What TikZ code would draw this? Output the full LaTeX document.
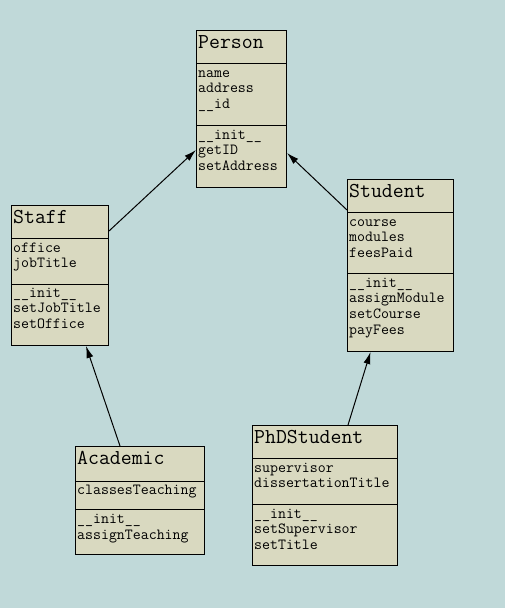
\documentclass[tikz,border=0pt]{standalone}
\usepackage{xcolor}
\usetikzlibrary{arrows.meta}
\definecolor{bgteal}{RGB}{192,217,217}
\definecolor{boxkhaki}{RGB}{217,217,192}

\begin{document}
\begin{tikzpicture}[x=1pt,y=-1pt]
		\tikzstyle{Class} = [rectangle, anchor=north west, draw=black, fill=boxkhaki, line width=1pt, inner sep=0pt]
		\tikzstyle{Title} = [anchor=base west, inner sep=0pt, font=\ttfamily\fontsize{21.2}{23}\selectfont]
		\tikzstyle{Member} = [anchor=base west, inner sep=0pt, font=\ttfamily\fontsize{15.45}{16}\selectfont]
		\tikzstyle{arrow} = [line width=1pt, -{Latex[length=12pt,width=7pt]}]
		
		\fill [bgteal] (0,0) rectangle (505,608);
		
		% Person
		\node (person) [Class, minimum width=90pt, minimum height=157pt] at (196,30) {};
		\draw [line width=1pt] (196,63) -- (286,63);
		\draw [line width=1pt] (196,125) -- (286,125);
		\node (person-t) [Title] at (198,48) {Person};
		\foreach \m [count=\i from 0] in {name, address, \_\_id}
			\node (person-a\i) [Member] at (198,77+15.7*\i) {\m};
		\foreach \m [count=\i from 0] in {\_\_init\_\_, getID, setAddress}
			\node (person-m\i) [Member] at (198,139+15.7*\i) {\m};
		
		% Staff
		\node (staff) [Class, minimum width=97pt, minimum height=140pt] at (11,205) {};
		\draw [line width=1pt] (11,238) -- (108,238);
		\draw [line width=1pt] (11,284) -- (108,284);
		\node (staff-t) [Title] at (13,223) {Staff};
		\foreach \m [count=\i from 0] in {office, jobTitle}
			\node (staff-a\i) [Member] at (13,252+15.7*\i) {\m};
		\foreach \m [count=\i from 0] in {\_\_init\_\_, setJobTitle, setOffice}
			\node (staff-m\i) [Member] at (13,297+15.7*\i) {\m};
		
		% Student
		\node (student) [Class, minimum width=106pt, minimum height=172pt] at (347,179) {};
		\draw [line width=1pt] (347,212) -- (453,212);
		\draw [line width=1pt] (347,273) -- (453,273);
		\node (student-t) [Title] at (349,197) {Student};
		\foreach \m [count=\i from 0] in {course, modules, feesPaid}
			\node (student-a\i) [Member] at (349,226+15.9*\i) {\m};
		\foreach \m [count=\i from 0] in {\_\_init\_\_, assignModule, setCourse, payFees}
			\node (student-m\i) [Member] at (349,287+15.9*\i) {\m};
		
		% Academic
		\node (academic) [Class, minimum width=129pt, minimum height=108pt] at (75,446) {};
		\draw [line width=1pt] (75,481) -- (204,481);
		\draw [line width=1pt] (75,509) -- (204,509);
		\node (academic-t) [Title] at (77,464) {Academic};
		\node (academic-a0) [Member] at (77,494) {classesTeaching};
		\foreach \m [count=\i from 0] in {\_\_init\_\_, assignTeaching}
			\node (academic-m\i) [Member] at (77,523+16*\i) {\m};
		
		% PhDStudent
		\node (phd) [Class, minimum width=145pt, minimum height=140pt] at (252,425) {};
		\draw [line width=1pt] (252,458) -- (397,458);
		\draw [line width=1pt] (252,504) -- (397,504);
		\node (phd-t) [Title] at (254,443) {PhDStudent};
		\foreach \m [count=\i from 0] in {supervisor, dissertationTitle}
			\node (phd-a\i) [Member] at (254,472+15.7*\i) {\m};
		\foreach \m [count=\i from 0] in {\_\_init\_\_, setSupervisor, setTitle}
			\node (phd-m\i) [Member] at (254,518+15.7*\i) {\m};
		
		% inheritance
		\draw [arrow] ([yshift=-26pt]staff.north east) -- ([yshift=-120pt]person.north west);
		\draw [arrow] ([yshift=-31pt]student.north west) -- ([yshift=-123pt]person.north east);
		\draw [arrow] ([xshift=45pt]academic.north west) -- ([xshift=75pt]staff.south west);
		\draw [arrow] ([xshift=96pt]phd.north west) -- ([xshift=23.5pt]student.south west);
\end{tikzpicture}
\end{document}
